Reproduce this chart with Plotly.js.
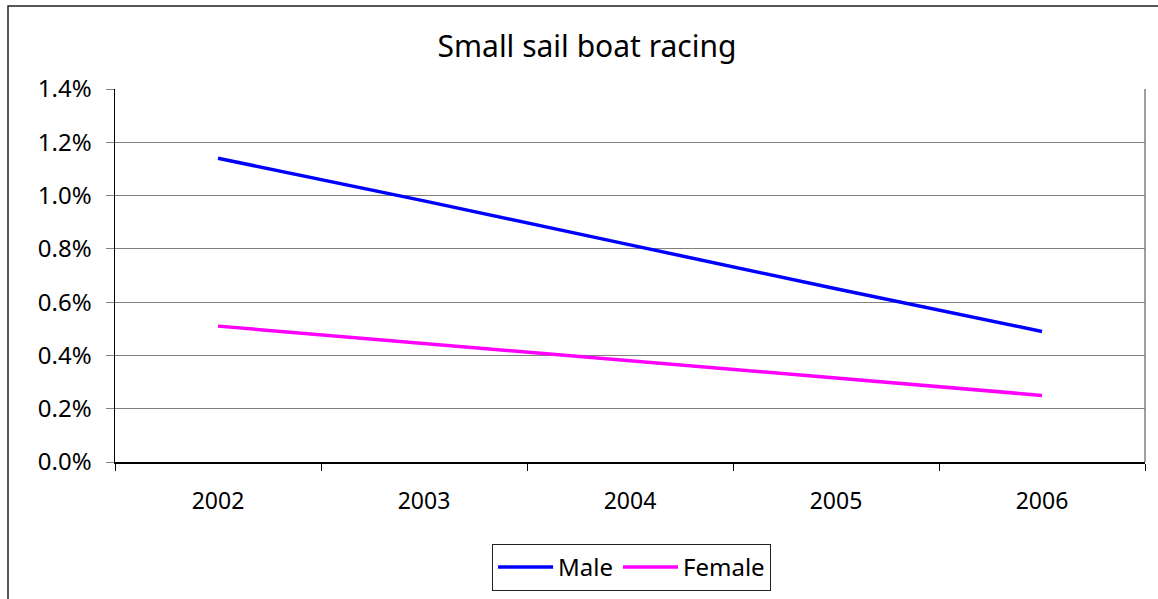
<!DOCTYPE html>
<html>
<head>
<meta charset="utf-8">
<script src="https://cdn.plot.ly/plotly-3.0.1.min.js"></script>
<style>html,body{margin:0;padding:0;background:#fff;}#chart{width:1158px;height:599px;}</style>
</head>
<body>
<div id="chart"></div>
<script>
const years = ['2002', '2003', '2004', '2005', '2006'];
const male = [0.0114, 0.0098, 0.00815, 0.0065, 0.0049];
const female = [0.0051, 0.00445, 0.0038, 0.00315, 0.0025];
const yTicks = [0, 0.002, 0.004, 0.006, 0.008, 0.010, 0.012, 0.014];

const font = 'Noto Sans, Open Sans, DejaVu Sans, sans-serif';

const traces = [
  {x: years, y: male, name: 'Male', type: 'scatter', mode: 'lines',
   line: {color: '#0000FF', width: 3.5}},
  {x: years, y: female, name: 'Female', type: 'scatter', mode: 'lines',
   line: {color: '#FF00FF', width: 3.5}}
];

const layout = {
  width: 1158, height: 599,
  margin: {l: 115, r: 13, t: 89, b: 137, pad: 0},
  paper_bgcolor: '#ffffff', plot_bgcolor: '#ffffff',
  font: {family: font, size: 23, color: '#000000'},
  title: {text: 'Small sail boat racing', font: {family: font, size: 30, color: '#000000'},
          xref: 'container', yref: 'container', x: 587/1158, xanchor: 'center', y: 1 - 46/599, yanchor: 'middle'},
  showlegend: true,
  legend: {orientation: 'h', x: 0.5015, xanchor: 'center', xref: 'paper', y: 1 - 544/599, yref: 'container', yanchor: 'top',
           bordercolor: '#222222', borderwidth: 1, font: {family: font, size: 24, color: '#000000'},
           itemwidth: 55, tracegroupgap: 0},
  xaxis: {type: 'category', range: [-0.5, 4.5], tickson: 'boundaries', ticks: 'outside', ticklen: 7, tickcolor: '#000000',
          showgrid: false, showline: true, linecolor: '#000000', linewidth: 1.5, zeroline: false,
          ticklabelstandoff: 18, tickfont: {family: font, size: 23, color: '#000000'}, fixedrange: true},
  yaxis: {range: [0, 0.014], tickvals: yTicks, tickformat: '.1%', ticks: 'outside', ticklen: 8, tickcolor: '#808080',
          showgrid: true, gridcolor: '#808080', gridwidth: 1, showline: true, linecolor: '#000000', linewidth: 1.5,
          zeroline: false, ticklabelstandoff: 9, tickfont: {family: font, size: 24, color: '#000000'}, fixedrange: true},
  shapes: [
    {type: 'line', xref: 'paper', yref: 'paper', x0: 1, x1: 1, y0: 0, y1: 1, line: {color: '#808080', width: 1.5}},
    {type: 'rect', xref: 'paper', yref: 'paper', x0: (8 - 115) / 1030, x1: (1175 - 115) / 1030,
     y0: (462 - 610) / 373, y1: (462 - 6) / 373, line: {color: '#222222', width: 1.5}, fillcolor: 'rgba(0,0,0,0)'}
  ]
};

Plotly.newPlot('chart', traces, layout, {displayModeBar: false, staticPlot: true});
</script>
</body>
</html>
